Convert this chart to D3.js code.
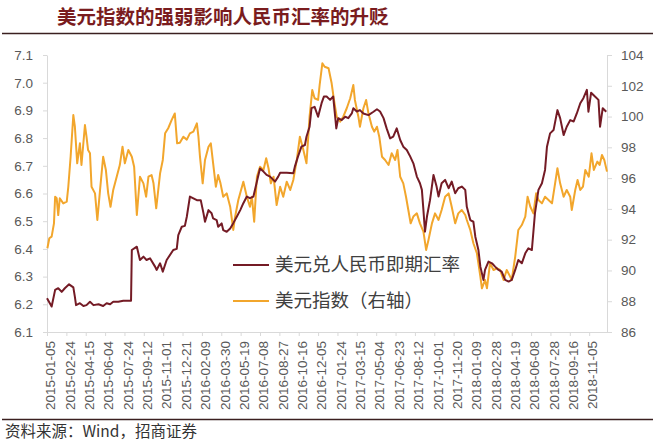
<!DOCTYPE html>
<html>
<head>
<meta charset="utf-8">
<script src="https://cdn.jsdelivr.net/npm/d3@7"></script>
<style>
  body { margin: 0; background: #fff; }
  svg { display: block; font-family: 'Noto Sans CJK SC', 'Noto Sans', sans-serif; }
  .axis path, .axis line { stroke: #d9d9d9; }
  .axis text { fill: #595959; }
</style>
</head>
<body>
<svg id="chart" width="666" height="441"></svg>
<script>
// 美元兑人民币即期汇率 (left axis)
const cnyDates = ['2015-01-05','2015-01-17','2015-01-26','2015-02-03','2015-02-12','2015-02-20','2015-03-03','2015-03-14','2015-03-18','2015-03-21','2015-03-31','2015-04-09','2015-04-17','2015-04-26','2015-05-05','2015-05-18','2015-05-30','2015-06-08','2015-06-17','2015-06-25','2015-07-08','2015-07-21','2015-08-10','2015-08-12','2015-08-25','2015-09-02','2015-09-11','2015-09-19','2015-09-28','2015-10-11','2015-10-15','2015-10-24','2015-10-31','2015-11-10','2015-11-27','2015-12-06','2015-12-10','2015-12-19','2015-12-27','2016-01-01','2016-01-09','2016-01-27','2016-02-06','2016-02-13','2016-02-17','2016-02-26','2016-03-05','2016-03-09','2016-03-18','2016-03-22','2016-03-31','2016-04-04','2016-04-13','2016-04-22','2016-04-30','2016-05-09','2016-05-18','2016-05-26','2016-06-04','2016-06-12','2016-06-21','2016-06-30','2016-07-08','2016-07-17','2016-07-25','2016-08-03','2016-08-16','2016-08-24','2016-08-29','2016-09-15','2016-10-02','2016-10-06','2016-10-14','2016-10-23','2016-11-01','2016-11-05','2016-11-13','2016-11-18','2016-11-26','2016-12-05','2016-12-14','2016-12-20','2016-12-27','2017-01-05','2017-01-13','2017-01-19','2017-01-21','2017-01-26','2017-02-04','2017-02-13','2017-02-21','2017-03-02','2017-03-06','2017-03-15','2017-03-23','2017-04-01','2017-04-14','2017-04-27','2017-05-06','2017-05-14','2017-05-23','2017-05-31','2017-06-09','2017-06-17','2017-06-26','2017-07-05','2017-07-13','2017-07-22','2017-07-31','2017-08-08','2017-08-17','2017-08-25','2017-08-30','2017-09-03','2017-09-07','2017-09-12','2017-09-20','2017-09-29','2017-10-07','2017-10-12','2017-10-20','2017-10-29','2017-11-07','2017-11-15','2017-11-24','2017-12-02','2017-12-11','2017-12-20','2017-12-24','2018-01-02','2018-01-10','2018-01-15','2018-01-23','2018-01-28','2018-02-05','2018-02-09','2018-02-18','2018-02-27','2018-03-07','2018-03-16','2018-03-24','2018-04-02','2018-04-11','2018-04-19','2018-04-28','2018-05-06','2018-05-15','2018-05-24','2018-06-01','2018-06-10','2018-06-18','2018-06-27','2018-07-06','2018-07-14','2018-07-19','2018-07-27','2018-08-05','2018-08-15','2018-08-22','2018-08-31','2018-09-08','2018-09-17','2018-09-26','2018-10-04','2018-10-13','2018-10-21','2018-10-30','2018-11-03','2018-11-10','2018-11-20','2018-11-29','2018-12-03','2018-12-10','2018-12-19'];
const cnyRate = [6.222,6.192,6.252,6.258,6.245,6.258,6.272,6.261,6.227,6.197,6.204,6.194,6.197,6.209,6.197,6.200,6.194,6.204,6.200,6.209,6.209,6.213,6.213,6.396,6.408,6.360,6.372,6.360,6.366,6.336,6.324,6.348,6.318,6.360,6.396,6.400,6.450,6.480,6.483,6.516,6.589,6.576,6.576,6.529,6.498,6.540,6.529,6.510,6.504,6.480,6.492,6.468,6.462,6.474,6.493,6.516,6.540,6.565,6.589,6.583,6.589,6.643,6.690,6.679,6.667,6.661,6.643,6.661,6.675,6.675,6.673,6.697,6.733,6.769,6.775,6.805,6.841,6.908,6.913,6.877,6.926,6.950,6.950,6.938,6.950,6.865,6.835,6.872,6.865,6.877,6.872,6.889,6.908,6.896,6.901,6.889,6.883,6.895,6.904,6.896,6.872,6.835,6.799,6.805,6.835,6.793,6.769,6.757,6.733,6.709,6.661,6.637,6.613,6.540,6.462,6.516,6.576,6.667,6.625,6.589,6.637,6.649,6.619,6.643,6.601,6.619,6.625,6.613,6.552,6.504,6.498,6.444,6.396,6.336,6.288,6.324,6.354,6.348,6.336,6.324,6.318,6.288,6.282,6.288,6.324,6.360,6.348,6.384,6.402,6.396,6.529,6.613,6.637,6.685,6.769,6.817,6.829,6.901,6.872,6.811,6.841,6.865,6.860,6.889,6.926,6.944,6.974,6.895,6.964,6.950,6.938,6.841,6.908,6.895];

// 美元指数 (right axis)
const dxyDates = ['2015-01-06','2015-01-11','2015-01-17','2015-01-23','2015-01-26','2015-01-30','2015-02-03','2015-02-07','2015-02-16','2015-02-25','2015-03-01','2015-03-07','2015-03-14','2015-03-18','2015-03-24','2015-03-31','2015-04-04','2015-04-13','2015-04-17','2015-04-21','2015-04-26','2015-04-30','2015-05-09','2015-05-15','2015-05-22','2015-05-30','2015-06-06','2015-06-12','2015-06-18','2015-06-25','2015-07-04','2015-07-12','2015-07-19','2015-07-25','2015-08-03','2015-08-12','2015-08-18','2015-08-25','2015-09-02','2015-09-11','2015-09-18','2015-09-24','2015-10-02','2015-10-07','2015-10-14','2015-10-24','2015-10-31','2015-11-06','2015-11-14','2015-11-23','2015-12-01','2015-12-07','2015-12-14','2015-12-23','2016-01-01','2016-01-09','2016-01-18','2016-01-27','2016-01-31','2016-02-04','2016-02-11','2016-02-17','2016-02-26','2016-03-03','2016-03-09','2016-03-16','2016-03-22','2016-03-28','2016-04-04','2016-04-13','2016-04-22','2016-04-30','2016-05-04','2016-05-13','2016-05-26','2016-06-04','2016-06-12','2016-06-17','2016-06-23','2016-06-30','2016-07-08','2016-07-17','2016-07-24','2016-07-30','2016-08-05','2016-08-12','2016-08-20','2016-08-29','2016-09-06','2016-09-15','2016-09-24','2016-10-02','2016-10-11','2016-10-19','2016-10-28','2016-11-05','2016-11-13','2016-11-20','2016-11-26','2016-12-05','2016-12-09','2016-12-16','2016-12-22','2017-01-01','2017-01-09','2017-01-15','2017-01-22','2017-01-31','2017-02-08','2017-02-17','2017-02-26','2017-03-06','2017-03-10','2017-03-19','2017-03-23','2017-04-01','2017-04-08','2017-04-14','2017-04-23','2017-04-29','2017-05-06','2017-05-12','2017-05-19','2017-05-27','2017-06-05','2017-06-13','2017-06-22','2017-06-28','2017-07-05','2017-07-13','2017-07-20','2017-07-26','2017-08-01','2017-08-08','2017-08-17','2017-08-25','2017-09-03','2017-09-10','2017-09-16','2017-09-25','2017-10-03','2017-10-12','2017-10-20','2017-10-29','2017-11-07','2017-11-15','2017-11-24','2017-12-02','2017-12-11','2017-12-20','2017-12-24','2018-01-02','2018-01-10','2018-01-19','2018-01-28','2018-02-01','2018-02-09','2018-02-14','2018-02-22','2018-03-03','2018-03-12','2018-03-20','2018-03-29','2018-04-06','2018-04-15','2018-04-19','2018-04-28','2018-05-06','2018-05-15','2018-05-24','2018-05-30','2018-06-06','2018-06-14','2018-06-21','2018-06-27','2018-07-06','2018-07-14','2018-07-23','2018-08-01','2018-08-09','2018-08-15','2018-08-22','2018-08-31','2018-09-08','2018-09-17','2018-09-21','2018-09-30','2018-10-06','2018-10-13','2018-10-20','2018-10-26','2018-11-04','2018-11-11','2018-11-17','2018-11-26','2018-12-02','2018-12-08','2018-12-14','2018-12-21'];
const dxyIndex = [91.44,92.09,92.20,93.06,94.79,94.69,93.60,94.69,94.36,94.47,95.44,97.39,100.10,99.34,96.96,98.26,96.85,99.45,98.69,97.83,97.61,95.44,95.01,93.28,95.23,97.39,96.53,95.01,94.14,95.23,96.09,96.85,98.04,96.96,97.83,97.39,96.74,93.60,96.09,95.66,94.79,96.09,96.20,95.66,94.04,96.31,97.18,98.91,99.24,99.78,100.20,98.26,98.30,98.69,98.50,98.91,99.02,99.56,98.69,97.39,95.66,97.18,98.04,98.26,96.96,95.44,96.20,95.66,94.79,95.01,94.14,92.63,93.39,94.58,95.77,94.79,94.14,94.79,93.17,96.09,96.74,96.53,97.29,96.64,95.66,96.09,94.25,95.44,94.79,95.77,95.23,95.88,97.18,98.69,97.83,96.96,99.99,101.73,101.19,101.08,102.05,103.46,103.24,103.14,102.16,101.08,99.99,99.67,99.99,100.54,101.19,102.05,101.08,99.99,99.34,100.54,101.08,100.21,99.34,99.02,99.34,98.69,97.39,97.18,96.85,97.61,97.18,97.83,96.09,95.66,94.79,93.93,93.06,93.50,93.71,93.06,92.52,91.33,91.98,93.06,93.71,93.28,93.93,94.79,95.01,94.14,93.06,93.71,93.93,93.60,93.28,92.63,91.77,91.12,89.60,88.84,89.38,88.84,90.47,90.03,90.14,90.03,89.38,90.03,89.60,89.38,90.90,92.63,92.95,93.50,94.79,94.14,93.71,95.01,94.58,94.36,94.79,94.58,94.36,95.66,96.64,95.66,94.79,95.23,94.79,93.93,95.23,95.88,95.23,95.45,96.53,96.09,97.61,96.53,97.07,96.85,97.50,97.18,96.42];

// Axis ticks
const xTickLabels = ['2015-01-05','2015-02-24','2015-04-15','2015-06-04','2015-07-24','2015-09-12','2015-11-01','2015-12-21','2016-02-09','2016-03-30','2016-05-19','2016-07-08','2016-08-27','2016-10-16','2016-12-05','2017-01-24','2017-03-15','2017-05-04','2017-06-23','2017-08-12','2017-10-01','2017-11-20','2018-01-09','2018-02-28','2018-04-19','2018-06-08','2018-07-28','2018-09-16','2018-11-05'];
const leftTicks = [6.1, 6.2, 6.3, 6.4, 6.5, 6.6, 6.7, 6.8, 6.9, 7.0, 7.1];
const rightTicks = [86, 88, 90, 92, 94, 96, 98, 100, 102, 104];
const seriesNames = ['美元兑人民币即期汇率', '美元指数（右轴）'];
const seriesColors = ['#741b25', '#f2a62c'];

const parseDate = d3.timeParse('%Y-%m-%d');
const plot = { left: 47, right: 607, top: 55, bottom: 332 };

const svg = d3.select('#chart');

// title and rules
svg.append('text')
  .attr('x', 57)
  .attr('y', 24)
  .attr('fill', '#7a1c1e')
  .attr('font-size', '19.5px')
  .attr('font-weight', 'bold')
  .text('美元指数的强弱影响人民币汇率的升贬');

svg.append('line')
  .attr('x1', 2).attr('x2', 653).attr('y1', 33.5).attr('y2', 33.5)
  .attr('stroke', '#3b2020').attr('stroke-width', 1.5);

svg.append('line')
  .attr('x1', 2).attr('x2', 653).attr('y1', 419.5).attr('y2', 419.5)
  .attr('stroke', '#3b2020').attr('stroke-width', 1.5);

svg.append('text')
  .attr('x', 5)
  .attr('y', 437)
  .attr('fill', '#333')
  .attr('font-size', '15.5px')
  .text('资料来源：Wind，招商证券');

// scales
const x = d3.scaleTime()
  .domain([parseDate('2015-01-05'), parseDate('2018-12-21')])
  .range([plot.left, plot.right]);

const yLeft = d3.scaleLinear()
  .domain([6.1, 7.1])
  .range([plot.bottom, plot.top]);

const yRight = d3.scaleLinear()
  .domain([86, 104])
  .range([plot.bottom, plot.top]);

// x axis
const xAxis = svg.append('g')
  .attr('class', 'axis')
  .attr('transform', `translate(0,${plot.bottom})`)
  .call(d3.axisBottom(x)
    .tickValues(xTickLabels.map(parseDate))
    .tickFormat(d3.timeFormat('%Y-%m-%d'))
    .tickSize(4)
    .tickSizeOuter(0));
xAxis.selectAll('text')
  .attr('font-size', '13.5px')
  .attr('font-family', 'Liberation Sans, sans-serif')
  .attr('text-anchor', 'end')
  .attr('transform', 'rotate(-90)')
  .attr('x', -9)
  .attr('y', 3)
  .attr('dy', '0.35em');

// left axis
const leftAxis = svg.append('g')
  .attr('class', 'axis')
  .attr('transform', `translate(${plot.left},0)`)
  .call(d3.axisLeft(yLeft)
    .tickValues(leftTicks)
    .tickFormat(d3.format('.1f'))
    .tickSize(4)
    .tickSizeOuter(0));
leftAxis.selectAll('text').attr('font-size', '13.5px').attr('x', -14);

// right axis
const rightAxis = svg.append('g')
  .attr('class', 'axis')
  .attr('transform', `translate(${plot.right},0)`)
  .call(d3.axisRight(yRight)
    .tickValues(rightTicks)
    .tickSize(5)
    .tickSizeOuter(0));
rightAxis.selectAll('text').attr('font-size', '13.5px').attr('x', 14);

// lines
const dxyData = dxyDates.map((d, i) => ({ date: parseDate(d), value: dxyIndex[i] }));
const cnyData = cnyDates.map((d, i) => ({ date: parseDate(d), value: cnyRate[i] }));

svg.append('path')
  .datum(dxyData)
  .attr('fill', 'none')
  .attr('stroke', seriesColors[1])
  .attr('stroke-width', 2)
  .attr('stroke-linejoin', 'round')
  .attr('d', d3.line().x((d) => x(d.date)).y((d) => yRight(d.value)));

svg.append('path')
  .datum(cnyData)
  .attr('fill', 'none')
  .attr('stroke', seriesColors[0])
  .attr('stroke-width', 2)
  .attr('stroke-linejoin', 'round')
  .attr('d', d3.line().x((d) => x(d.date)).y((d) => yLeft(d.value)));

// legend
const legend = svg.append('g').attr('transform', 'translate(233,265)');
seriesNames.forEach((name, i) => {
  const row = legend.append('g').attr('transform', `translate(0,${i * 36})`);
  row.append('line')
    .attr('x1', 0).attr('x2', 36).attr('y1', 0).attr('y2', 0)
    .attr('stroke', seriesColors[i]).attr('stroke-width', 2);
  row.append('text')
    .attr('x', 42)
    .attr('y', 0)
    .attr('dy', '0.35em')
    .attr('fill', '#404040')
    .attr('font-size', '18.5px')
    .text(name);
});
</script>
</body>
</html>
